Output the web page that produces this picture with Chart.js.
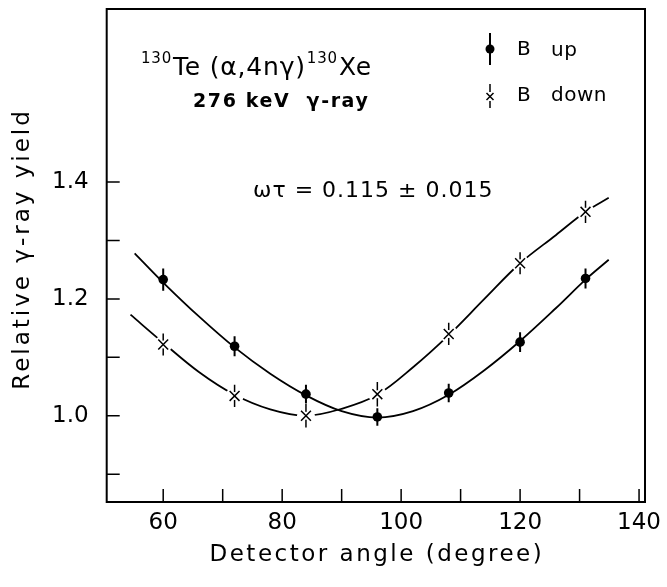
<!DOCTYPE html>
<html><head><meta charset="utf-8">
<script src="https://cdn.jsdelivr.net/npm/chart.js@4.4.0/dist/chart.umd.min.js"></script>
<style>html,body{margin:0;padding:0;background:#fff}#wrap{width:667px;height:587px;position:relative}</style>
</head><body><div id="wrap"><canvas id="c" width="667" height="587"></canvas></div>
<script>
// ---- data ----
const angles = [60, 72, 84, 96, 108, 120, 131];
const yieldUp = [1.233, 1.119, 1.037, 0.998, 1.039, 1.126, 1.235];
const yieldDown = [1.122, 1.034, 1.000, 1.037, 1.140, 1.261, 1.349];
const errUp = [0.019, 0.017, 0.016, 0.015, 0.016, 0.017, 0.017];
const errDown = [0.019, 0.019, 0.020, 0.021, 0.019, 0.019, 0.019];
const fitUpAngles = [55.2, 60, 66, 72, 78, 84, 90, 96, 102, 108, 114, 120, 126, 131, 134.9];
const fitUpValues = [1.278, 1.228, 1.170, 1.117, 1.072, 1.035, 1.008, 0.997, 1.008, 1.036, 1.078, 1.128, 1.184, 1.233, 1.267];
const fitDownAngles = [54.5, 60, 66, 72, 78, 84, 90, 96, 102, 108, 114, 120, 126, 131, 134.9];
const fitDownValues = [1.173, 1.125, 1.075, 1.036, 1.011, 1.000, 1.012, 1.036, 1.083, 1.138, 1.200, 1.261, 1.309, 1.349, 1.373];
const xTicks = [60, 70, 80, 90, 100, 110, 120, 130, 140];
const xLabels = [60, 80, 100, 120, 140];
const yTicks = [0.9, 1.0, 1.1, 1.2, 1.3, 1.4];
const yLabels = [1.0, 1.2, 1.4];
const xTitle = 'Detector angle (degree)';
const yTitle = 'Relative γ-ray yield';
const legendUp = 'up', legendDown = 'down';

const FONT = '"DejaVu Sans", sans-serif';
Chart.defaults.font.family = FONT;
Chart.defaults.color = '#000';

const pts = (xs, vs) => xs.map((x, i) => ({x, y: vs[i]}));
function bars(xs, vs, es) {
  const d = [];
  xs.forEach((x, i) => { d.push({x, y: vs[i] - es[i]}, {x, y: vs[i] + es[i]}, {x, y: null}); });
  return d;
}

const annot = {
  id: 'annot',
  afterDraw(chart) {
    const ctx = chart.ctx, a = chart.chartArea;
    const xs = chart.scales.x, ys = chart.scales.y;
    ctx.save();
    ctx.fillStyle = '#000'; ctx.strokeStyle = '#000';
    ctx.lineWidth = 2;
    ctx.strokeRect(a.left, a.top, a.right - a.left, a.bottom - a.top);
    ctx.lineWidth = 1.5;
    ctx.beginPath();
    xs.ticks.forEach(t => { const p = xs.getPixelForValue(t.value); ctx.moveTo(p, a.bottom); ctx.lineTo(p, a.bottom - 13); });
    ys.ticks.forEach(t => { const p = ys.getPixelForValue(t.value); ctx.moveTo(a.left, p); ctx.lineTo(a.left + 13, p); });
    ctx.stroke();

    // axis titles
    ctx.font = '23px ' + FONT;
    ctx.letterSpacing = '2.5px';
    ctx.textAlign = 'center'; ctx.textBaseline = 'middle';
    ctx.fillText(xTitle, (a.left + a.right) / 2 + 1, 555);
    ctx.save();
    ctx.translate(23, 249);
    ctx.rotate(-Math.PI / 2);
    ctx.letterSpacing = '3px';
    ctx.fillText(yTitle, 0, 0);
    ctx.restore();

    ctx.textAlign = 'left'; ctx.textBaseline = 'alphabetic';
    // reaction label
    ctx.letterSpacing = '0.8px';
    let x = 141;
    ctx.font = '15px ' + FONT; ctx.fillText('130', x, 63); x += ctx.measureText('130').width + 1;
    ctx.font = '25px ' + FONT; ctx.fillText('Te (α,4nγ)', x, 75); x += ctx.measureText('Te (α,4nγ)').width + 1;
    ctx.font = '15px ' + FONT; ctx.fillText('130', x, 63); x += ctx.measureText('130').width + 1;
    ctx.font = '25px ' + FONT; ctx.fillText('Xe', x, 75);
    ctx.letterSpacing = '1.6px';
    ctx.font = 'bold 19px ' + FONT;
    ctx.fillText('276 keV  γ-ray', 193, 107);
    ctx.letterSpacing = '1px';
    ctx.font = '22px ' + FONT;
    ctx.fillText('ωτ = 0.115 ± 0.015', 253, 197);
    ctx.letterSpacing = '0px';

    // legend
    const lx = 490;
    ctx.lineWidth = 2;
    ctx.beginPath(); ctx.moveTo(lx, 33); ctx.lineTo(lx, 65); ctx.stroke();
    ctx.beginPath(); ctx.arc(lx, 49, 4.5, 0, Math.PI * 2); ctx.fill();
    ctx.lineWidth = 1.5;
    ctx.beginPath(); ctx.moveTo(lx, 84); ctx.lineTo(lx, 92); ctx.moveTo(lx, 101); ctx.lineTo(lx, 108);
    ctx.moveTo(lx - 3.5, 93); ctx.lineTo(lx + 3.5, 100); ctx.moveTo(lx + 3.5, 93); ctx.lineTo(lx - 3.5, 100);
    ctx.stroke();
    ctx.font = '20px ' + FONT; ctx.textBaseline = 'middle';
    ctx.letterSpacing = '0.5px';
    ctx.fillText('B', 517, 50); ctx.fillText(legendUp, 551, 51);
    ctx.fillText('B', 517, 96); ctx.fillText(legendDown, 551, 96);
    ctx.restore();
  }
};

new Chart(document.getElementById('c'), {
  type: 'scatter',
  data: {
    datasets: [
      {data: pts(angles, yieldUp), pointStyle: 'circle', pointRadius: 4.8, pointBackgroundColor: '#000', pointBorderWidth: 0, showLine: false, order: 1},
      {data: pts(angles, yieldDown), pointStyle: 'crossRot', pointRadius: 7, pointBorderColor: '#000', pointBorderWidth: 1.5, showLine: false, order: 1},
      {data: pts(angles, yieldDown), pointStyle: 'circle', pointRadius: 4, pointBackgroundColor: '#fff', pointBorderWidth: 0, showLine: false, order: 2},
      {data: bars(angles, yieldUp, errUp), showLine: true, spanGaps: false, borderColor: '#000', borderWidth: 2, pointRadius: 0, order: 3},
      {data: bars(angles, yieldDown, errDown), showLine: true, spanGaps: false, borderColor: '#000', borderWidth: 1.5, pointRadius: 0, order: 3},
      {data: pts(angles, yieldDown), pointStyle: 'circle', pointRadius: 9, pointBackgroundColor: '#fff', pointBorderWidth: 0, showLine: false, order: 4},
      {data: pts(fitUpAngles, fitUpValues), showLine: true, borderColor: '#000', borderWidth: 1.8, pointRadius: 0, tension: 0.35, order: 5},
      {data: pts(fitDownAngles, fitDownValues), showLine: true, borderColor: '#000', borderWidth: 1.8, pointRadius: 0, tension: 0.35, order: 5}
    ]
  },
  options: {
    responsive: false, devicePixelRatio: 1, animation: false, events: [],
    layout: {padding: {left: 0, right: 22, top: 8.5, bottom: 0}},
    plugins: {legend: {display: false}, tooltip: {enabled: false}},
    scales: {
      x: {
        type: 'linear', min: 50.5, max: 141,
        grid: {display: false}, border: {display: false},
        afterBuildTicks: s => { s.ticks = xTicks.map(v => ({value: v})); },
        afterFit: s => { s.height = 85; s.paddingLeft = 0; s.paddingRight = 0; },
        ticks: {autoSkip: false, maxRotation: 0, padding: -1, font: {size: 23, lineHeight: 1.2},
          callback: v => xLabels.includes(v) ? String(v) : ''}
      },
      y: {
        type: 'linear', min: 0.8525, max: 1.696,
        grid: {display: false}, border: {display: false},
        afterBuildTicks: s => { s.ticks = yTicks.map(v => ({value: v})); },
        afterFit: s => { s.width = 106.7; s.paddingTop = 0; s.paddingBottom = 0; },
        ticks: {autoSkip: false, padding: 10, font: {size: 23, lineHeight: 1.2},
          callback: v => yLabels.includes(v) ? v.toFixed(1) : ''}
      }
    }
  },
  plugins: [annot]
});
</script>
</body></html>
